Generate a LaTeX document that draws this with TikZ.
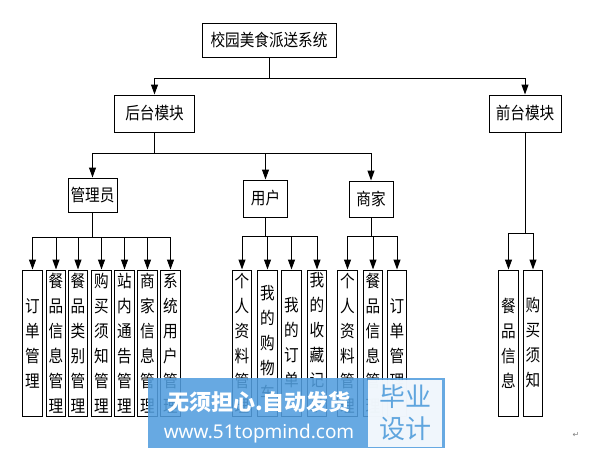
\documentclass[tikz,border=0pt]{standalone}
\usepackage{fontspec}
\setmainfont{Noto Sans CJK SC}
\newfontfamily\cjkn{Noto Sans CJK SC}[FakeStretch=0.86]
\newfontfamily\latinb{Noto Sans}
\newfontfamily\symf{DejaVu Sans}
\usetikzlibrary{arrows.meta}
\definecolor{wmblue}{RGB}{82,158,222}
\definecolor{wmtext}{RGB}{95,165,222}
\tikzset{
  box/.style={draw, line width=1pt, inner sep=0pt, font=\cjkn\fontsize{17}{20}\selectfont},
  vbox/.style={box, minimum width=19.5pt, minimum height=146pt, text width=19.5pt, align=center, font=\cjkn\fontsize{17}{25}\selectfont},
  arr/.style={-{Triangle[length=10pt,width=7pt]}, line width=1pt},
  ln/.style={line width=1pt}
}
\begin{document}
\begin{tikzpicture}[x=1pt,y=-1pt]
\useasboundingbox[fill=white] (0,0) rectangle (593,452);
% level 0/1
\node[box, minimum width=134pt, minimum height=33pt] (root) at (269,40.5) {校园美食派送系统};
\node[box, minimum width=80pt, minimum height=37pt] (back) at (154.5,113.5) {后台模块};
\node[box, minimum width=72pt, minimum height=37pt] (front) at (525,113.5) {前台模块};
% level 2
\node[box, minimum width=49pt, minimum height=34pt] (admin) at (92.5,195) {管理员};
\node[box, minimum width=44pt, minimum height=37pt] (user) at (265.5,198.5) {用户};
\node[box, minimum width=44pt, minimum height=36pt] (merch) at (371,199) {商家};
% admin children
\node[vbox] (a1) at (32.5,343) {订\\单\\管\\理};
\node[vbox] (a2) at (56,343) {餐\\品\\信\\息\\管\\理};
\node[vbox] (a3) at (78,343) {餐\\品\\类\\别\\管\\理};
\node[vbox] (a4) at (101.5,343) {购\\买\\须\\知\\管\\理};
\node[vbox] (a5) at (124.5,343) {站\\内\\通\\告\\管\\理};
\node[vbox] (a6) at (147.5,343) {商\\家\\信\\息\\管\\理};
\node[vbox] (a7) at (170.5,343) {系\\统\\用\\户\\管\\理};
% user children
\node[vbox] (u1) at (242,343) {个\\人\\资\\料\\管\\理};
\node[vbox] (u2) at (267.5,343) {我\\的\\购\\物\\车};
\node[vbox] (u3) at (291.5,343) {我\\的\\订\\单};
\node[vbox] (u4) at (317,343) {我\\的\\收\\藏\\记\\录};
% merchant children
\node[vbox] (m1) at (347.5,343) {个\\人\\资\\料\\管\\理};
\node[vbox] (m2) at (373,343) {餐\\品\\信\\息\\管\\理};
\node[vbox] (m3) at (397,343) {订\\单\\管\\理};
% front children
\node[vbox] (f1) at (508.5,343) {餐\\品\\信\\息};
\node[vbox] (f2) at (533,343) {购\\买\\须\\知};
% junctions
\coordinate (j0) at (269,78);
\coordinate (j1) at (154.5,153);
\coordinate (ja) at (92.5,237);
\coordinate (ju) at (265.5,236);
\coordinate (jm) at (371,236);
\coordinate (jf) at (525,233);
% connectors
\draw[ln] (root.south) -- (j0);
\draw[arr] (j0) -| (back.north);
\draw[arr] (j0) -| (front.north);
\draw[ln] (back.south) -- (j1);
\foreach \n in {admin,user,merch} \draw[arr] (j1) -| (\n.north);
\draw[ln] (admin.south) -- (ja);
\foreach \n in {a1,a2,a3,a4,a5,a6,a7} \draw[arr] (ja) -| (\n.north);
\draw[ln] (user.south) -- (ju);
\foreach \n in {u1,u2,u3,u4} \draw[arr] (ju) -| (\n.north);
\draw[ln] (merch.south) -- (jm);
\foreach \n in {m1,m2,m3} \draw[arr] (jm) -| (\n.north);
\draw[ln] (front.south) -- (jf);
\foreach \n in {f1,f2} \draw[arr] (jf) -| (\n.north);
% paragraph mark
\node[text=gray, font=\symf\fontsize{8}{8}\selectfont] (pm) at (576,435) {↵};
% watermark
\fill[wmblue, fill opacity=0.88] (148,378) rectangle (445,448);
\fill[white, fill opacity=0.9] (368,380) rectangle (442,447);
\node[text=white, font=\bfseries\fontsize{22}{22}\selectfont, inner sep=0pt] (wm1) at (259,402) {无须担心.自动发货};
\node[text=white, font=\latinb\bfseries\fontsize{19}{19}\selectfont, inner sep=0pt] (wm2) at (259,434) {www.51topmind.com};
\node[text=wmtext, font=\fontsize{26}{26}\selectfont, inner sep=0pt] (wm3) at (405,397) {毕业};
\node[text=wmtext, font=\fontsize{26}{26}\selectfont, inner sep=0pt] (wm4) at (405,429) {设计};
\end{tikzpicture}
\end{document}
